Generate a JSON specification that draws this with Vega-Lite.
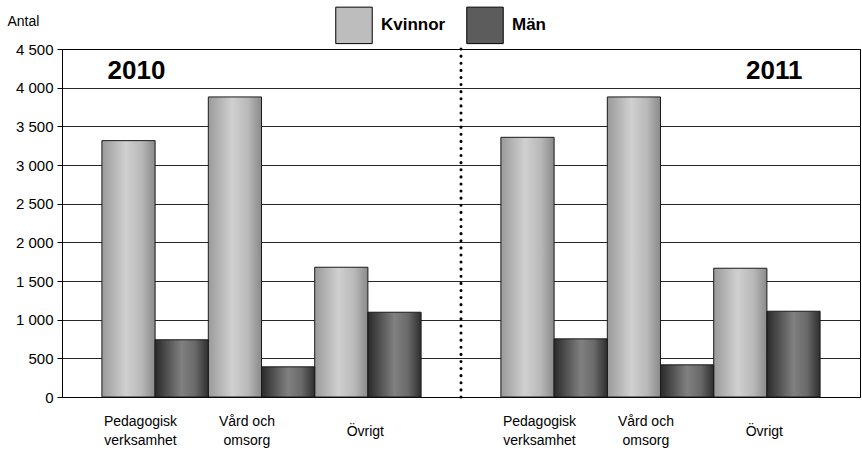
{
  "$schema": "https://vega.github.io/schema/vega-lite/v6.json",
  "width": 798,
  "height": 348,
  "autosize": {"type": "none"},
  "padding": {"left": 62, "top": 49, "right": 2, "bottom": 56},
  "background": "white",
  "config": {
    "font": "Liberation Sans",
    "view": {"stroke": "#000", "strokeWidth": 1},
    "axisY": {
      "labelFontSize": 15,
      "labelColor": "#000",
      "labelPadding": 4,
      "tickColor": "#000",
      "tickSize": 5,
      "domainColor": "#000",
      "grid": true,
      "gridColor": "#000",
      "gridWidth": 1,
      "gridOpacity": 0.85,
      "titleAngle": 0,
      "titleAlign": "left",
      "titleBaseline": "alphabetic",
      "titleX": -55,
      "titleY": -24,
      "titleFontSize": 14,
      "titleFontWeight": "normal",
      "titleColor": "#000"
    }
  },
  "datasets": {
    "bars": [
      {"year": "2010", "serie": "Ped K", "gender": "Kvinnor", "value": 3315},
      {"year": "2010", "serie": "Ped M", "gender": "Män", "value": 740},
      {"year": "2010", "serie": "Vård K", "gender": "Kvinnor", "value": 3880},
      {"year": "2010", "serie": "Vård M", "gender": "Män", "value": 390},
      {"year": "2010", "serie": "Övr K", "gender": "Kvinnor", "value": 1678},
      {"year": "2010", "serie": "Övr M", "gender": "Män", "value": 1096},
      {"year": "2011", "serie": "Ped K", "gender": "Kvinnor", "value": 3358},
      {"year": "2011", "serie": "Ped M", "gender": "Män", "value": 752},
      {"year": "2011", "serie": "Vård K", "gender": "Kvinnor", "value": 3880},
      {"year": "2011", "serie": "Vård M", "gender": "Män", "value": 416},
      {"year": "2011", "serie": "Övr K", "gender": "Kvinnor", "value": 1665},
      {"year": "2011", "serie": "Övr M", "gender": "Män", "value": 1109}
    ],
    "labels2": [
      {"year": "2010", "serie": "Ped K", "label": ["Pedagogisk", "verksamhet"]},
      {"year": "2010", "serie": "Vård K", "label": ["Vård och", "omsorg"]},
      {"year": "2011", "serie": "Ped K", "label": ["Pedagogisk", "verksamhet"]},
      {"year": "2011", "serie": "Vård K", "label": ["Vård och", "omsorg"]}
    ],
    "labels1": [
      {"year": "2010", "serie": "Övr K", "label": "Övrigt"},
      {"year": "2011", "serie": "Övr K", "label": "Övrigt"}
    ]
  },
  "layer": [
    {
      "data": {"name": "bars"},
      "transform": [{"filter": "datum.gender === 'Kvinnor'"}],
      "mark": {"type": "bar", "stroke": "#1a1a1a", "strokeWidth": 1,
               "fill": {"gradient": "linear", "x1": 0, "y1": 0, "x2": 1, "y2": 0,
                        "stops": [{"offset": 0, "color": "#9a9a9a"}, {"offset": 0.45, "color": "#d0d0d0"}, {"offset": 0.75, "color": "#b8b8b8"}, {"offset": 1, "color": "#8a8a8a"}]}},
      "encoding": {
        "x": {"field": "year", "type": "nominal", "axis": null,
              "scale": {"paddingInner": 0.2, "paddingOuter": 0.1}},
        "xOffset": {"field": "serie", "type": "nominal",
                    "scale": {"domain": ["Ped K", "Ped M", "Vård K", "Vård M", "Övr K", "Övr M"], "paddingInner": 0, "paddingOuter": 0}},
        "y": {"field": "value", "type": "quantitative",
              "scale": {"domain": [0, 4500], "nice": false},
              "axis": {"title": "Antal", "grid": true, "values": [0, 500, 1000, 1500, 2000, 2500, 3000, 3500, 4000, 4500],
                       "labelExpr": "replace(format(datum.value, ','), ',', ' ')"}}
      }
    },
    {
      "data": {"name": "bars"},
      "transform": [{"filter": "datum.gender === 'Män'"}],
      "mark": {"type": "bar", "stroke": "#1a1a1a", "strokeWidth": 1,
               "fill": {"gradient": "linear", "x1": 0, "y1": 0, "x2": 1, "y2": 0,
                        "stops": [{"offset": 0, "color": "#2a2a2a"}, {"offset": 0.5, "color": "#808080"}, {"offset": 0.75, "color": "#6a6a6a"}, {"offset": 1, "color": "#2e2e2e"}]}},
      "encoding": {
        "x": {"field": "year", "type": "nominal", "axis": null},
        "xOffset": {"field": "serie", "type": "nominal"},
        "y": {"field": "value", "type": "quantitative",
              "axis": {"title": "Antal", "grid": true, "values": [0, 500, 1000, 1500, 2000, 2500, 3000, 3500, 4000, 4500],
                       "labelExpr": "replace(format(datum.value, ','), ',', ' ')"}}
      }
    },
    {
      "data": {"name": "bars"},
      "mark": {"type": "bar", "strokeWidth": 0},
      "encoding": {
        "x": {"field": "year", "type": "nominal", "axis": null},
        "xOffset": {"field": "serie", "type": "nominal"},
        "y": {"datum": 0, "type": "quantitative",
              "axis": {"title": "Antal", "grid": true, "values": [0, 500, 1000, 1500, 2000, 2500, 3000, 3500, 4000, 4500],
                       "labelExpr": "replace(format(datum.value, ','), ',', ' ')"}},
        "color": {
          "field": "gender", "type": "nominal",
          "scale": {"domain": ["Kvinnor", "Män"], "range": ["#bdbdbd", "#5c5c5c"]},
          "legend": {
            "title": null,
            "orient": "none",
            "legendX": 273,
            "legendY": -43,
            "direction": "horizontal",
            "symbolType": "square",
            "symbolSize": 1330,
            "symbolStrokeColor": "#000",
            "symbolStrokeWidth": 1,
            "symbolOpacity": 1,
            "labelFontSize": 17,
            "labelFontWeight": "bold",
            "labelColor": "#000",
            "labelOffset": 8,
            "columnPadding": 18
          }
        }
      }
    },
    {
      "data": {"values": [{"year": "2011"}]},
      "mark": {"type": "rule", "color": "#000", "strokeWidth": 3, "strokeDash": [0.1, 7], "strokeCap": "round"},
      "encoding": {
        "x": {"field": "year", "type": "nominal", "bandPosition": -0.125, "axis": null},
        "y": {"datum": 0, "type": "quantitative",
              "axis": {"title": "Antal", "grid": true, "values": [0, 500, 1000, 1500, 2000, 2500, 3000, 3500, 4000, 4500],
                       "labelExpr": "replace(format(datum.value, ','), ',', ' ')"}},
        "y2": {"datum": 4500}
      }
    },
    {
      "data": {"values": [{"year": "2010", "serie": "Ped K", "label": "2010"}]},
      "mark": {"type": "text", "fontSize": 26, "fontWeight": "bold", "align": "left", "baseline": "alphabetic", "dx": -21, "dy": 30, "color": "#000"},
      "encoding": {
        "x": {"field": "year", "type": "nominal", "axis": null},
        "xOffset": {"field": "serie", "type": "nominal"},
        "y": {"datum": 4500, "type": "quantitative",
              "axis": {"title": "Antal", "grid": true, "values": [0, 500, 1000, 1500, 2000, 2500, 3000, 3500, 4000, 4500],
                       "labelExpr": "replace(format(datum.value, ','), ',', ' ')"}},
        "text": {"field": "label"}
      }
    },
    {
      "data": {"values": [{"year": "2011", "serie": "Övr M", "label": "2011"}]},
      "mark": {"type": "text", "fontSize": 26, "fontWeight": "bold", "align": "right", "baseline": "alphabetic", "dx": 9, "dy": 30, "color": "#000"},
      "encoding": {
        "x": {"field": "year", "type": "nominal", "axis": null},
        "xOffset": {"field": "serie", "type": "nominal"},
        "y": {"datum": 4500, "type": "quantitative",
              "axis": {"title": "Antal", "grid": true, "values": [0, 500, 1000, 1500, 2000, 2500, 3000, 3500, 4000, 4500],
                       "labelExpr": "replace(format(datum.value, ','), ',', ' ')"}},
        "text": {"field": "label"}
      }
    },
    {
      "data": {"name": "labels2"},
      "mark": {"type": "text", "fontSize": 14, "align": "center", "baseline": "alphabetic", "dx": 12, "dy": 29, "lineHeight": 19, "color": "#000"},
      "encoding": {
        "x": {"field": "year", "type": "nominal", "axis": null},
        "xOffset": {"field": "serie", "type": "nominal"},
        "y": {"datum": 0, "type": "quantitative",
              "axis": {"title": "Antal", "grid": true, "values": [0, 500, 1000, 1500, 2000, 2500, 3000, 3500, 4000, 4500],
                       "labelExpr": "replace(format(datum.value, ','), ',', ' ')"}},
        "text": {"field": "label"}
      }
    },
    {
      "data": {"name": "labels1"},
      "mark": {"type": "text", "fontSize": 14, "align": "center", "baseline": "middle", "dx": 24, "dy": 35, "color": "#000"},
      "encoding": {
        "x": {"field": "year", "type": "nominal", "axis": null},
        "xOffset": {"field": "serie", "type": "nominal"},
        "y": {"datum": 0, "type": "quantitative",
              "axis": {"title": "Antal", "grid": true, "values": [0, 500, 1000, 1500, 2000, 2500, 3000, 3500, 4000, 4500],
                       "labelExpr": "replace(format(datum.value, ','), ',', ' ')"}},
        "text": {"field": "label"}
      }
    }
  ]
}
